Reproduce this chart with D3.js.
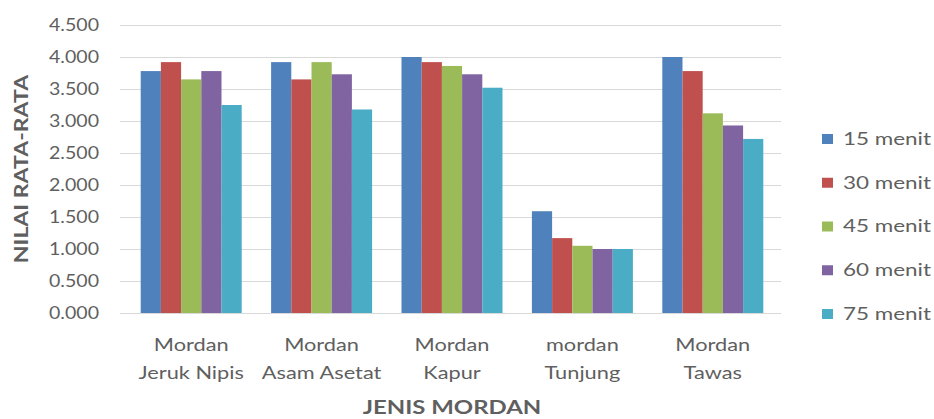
<!DOCTYPE html>
<html>
<head>
<meta charset="utf-8">
<script src="https://cdn.jsdelivr.net/npm/d3@7"></script>
<style>
  html, body { margin: 0; padding: 0; background: #ffffff; }
  svg { display: block; font-family: Lato, "Open Sans", sans-serif; }
</style>
</head>
<body>
<svg id="chart" width="934" height="419"></svg>
<script>
// Mordant types (two-line axis labels)
const categories = [
  ["Mordan", "Jeruk Nipis"],
  ["Mordan", "Asam Asetat"],
  ["Mordan", "Kapur"],
  ["mordan", "Tunjung"],
  ["Mordan", "Tawas"]
];
// Immersion time series
const seriesNames = ["15 menit", "30 menit", "45 menit", "60 menit", "75 menit"];
const menit15 = [3.78, 3.92, 4.00, 1.59, 4.00];
const menit30 = [3.92, 3.65, 3.92, 1.17, 3.78];
const menit45 = [3.65, 3.92, 3.86, 1.05, 3.12];
const menit60 = [3.78, 3.73, 3.73, 1.00, 2.93];
const menit75 = [3.25, 3.18, 3.52, 1.00, 2.72];
const seriesValues = [menit15, menit30, menit45, menit60, menit75];
const seriesColors = ["#4F81BD", "#C0504D", "#9BBB59", "#8064A2", "#4BACC6"];
const yTicks = [0, 0.5, 1, 1.5, 2, 2.5, 3, 3.5, 4, 4.5];
const yTitle = "NILAI RATA-RATA";
const xTitle = "JENIS MORDAN";

const svg = d3.select("#chart");
const textColor = "#5f5f5f";
const gridColor = "#d9d9d9";

// widen glyphs horizontally by a factor
function widen(sel, factor) {
  sel.each(function () {
    const w = this.getComputedTextLength();
    this.setAttribute("textLength", w * factor);
    this.setAttribute("lengthAdjust", "spacingAndGlyphs");
  });
}

const plot = { left: 120, right: 781, top: 25, bottom: 313 };

const y = d3.scaleLinear().domain([0, 4.5]).range([plot.bottom, plot.top]);
const catIdx = categories.map((_, i) => i);
const x0 = d3.scaleBand().domain(catIdx).range([126, 778])
  .paddingInner(0.2255).paddingOuter(0.11275);
const x1 = d3.scaleBand().domain(d3.range(seriesNames.length))
  .range([0, x0.bandwidth()]);

// Gridlines and value labels
const yAxis = d3.axisLeft(y)
  .tickValues(yTicks)
  .tickFormat(d3.format(".3f"))
  .tickSize(-(plot.right - plot.left))
  .tickPadding(21);

const gy = svg.append("g")
  .attr("transform", `translate(${plot.left},0)`)
  .call(yAxis);
gy.select(".domain").remove();
gy.selectAll(".tick line").attr("stroke", gridColor).attr("stroke-width", 1);
gy.selectAll(".tick text")
  .attr("fill", textColor)
  .style("font-size", "17px")
  .style("font-family", "Lato, sans-serif")
  .call(widen, 1.15);

// Bars
const groups = svg.append("g").selectAll("g")
  .data(catIdx)
  .join("g")
  .attr("transform", d => `translate(${x0(d)},0)`);

groups.selectAll("rect")
  .data(ci => seriesValues.map((vals, si) => ({ si, v: vals[ci] })))
  .join("rect")
  .attr("x", d => x1(d.si))
  .attr("width", x1.bandwidth())
  .attr("y", d => y(d.v))
  .attr("height", d => y(0) - y(d.v))
  .attr("fill", d => seriesColors[d.si]);

// Category labels
const catLabels = svg.append("g");
categories.forEach((lines, i) => {
  lines.forEach((line, li) => {
    catLabels.append("text")
      .attr("x", x0(i) + x0.bandwidth() / 2)
      .attr("y", 345 + li * 28)
      .attr("dy", "0.35em")
      .attr("text-anchor", "middle")
      .attr("fill", textColor)
      .style("font-size", "17px")
      .text(line);
  });
});
catLabels.selectAll("text").call(widen, 1.28);

// Axis titles
svg.append("text")
  .attr("transform", `translate(22,${(plot.top + plot.bottom) / 2}) rotate(-90)`)
  .attr("text-anchor", "middle")
  .attr("dy", "0.35em")
  .attr("fill", textColor)
  .style("font-size", "18px")
  .style("font-weight", "bold")
  .text(yTitle)
  .call(widen, 1.28);

svg.append("text")
  .attr("x", (126 + 778) / 2)
  .attr("y", 408)
  .attr("dy", "0.35em")
  .attr("text-anchor", "middle")
  .attr("fill", textColor)
  .style("font-size", "18px")
  .style("font-weight", "bold")
  .text(xTitle)
  .call(widen, 1.33);

// Legend
const ly = d3.scalePoint().domain(seriesNames).range([139, 314]);
const legend = svg.append("g").selectAll("g")
  .data(seriesNames)
  .join("g")
  .attr("transform", d => `translate(822,${ly(d)})`);
legend.append("rect")
  .attr("x", 0).attr("y", -5)
  .attr("width", 11).attr("height", 10)
  .attr("fill", (d, i) => seriesColors[i]);
legend.append("text")
  .attr("x", 21)
  .attr("dy", "0.35em")
  .attr("fill", textColor)
  .style("font-size", "17px")
  .text(d => d)
  .call(widen, 1.32);
</script>
</body>
</html>
